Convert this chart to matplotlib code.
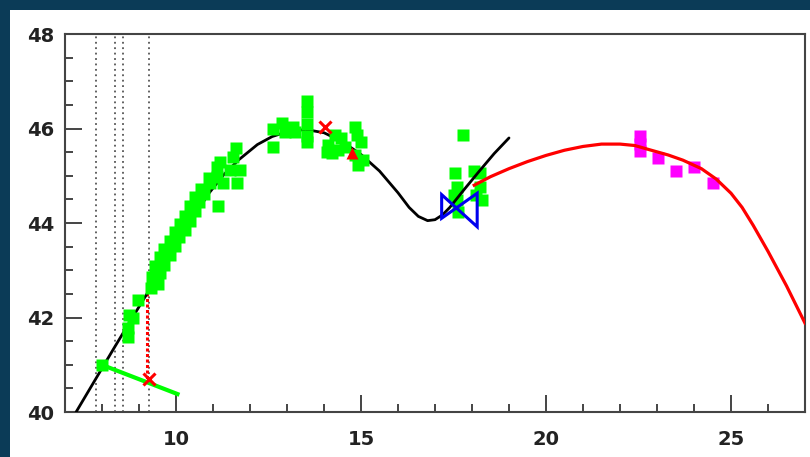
import matplotlib
matplotlib.use("Agg")
import matplotlib.pyplot as plt
from matplotlib.patches import Rectangle, Polygon
from matplotlib.ticker import MultipleLocator

# ---------------- data ----------------
model_x = [7.30, 7.80, 8.30, 8.80, 9.30, 9.80, 10.30, 10.60, 10.90, 11.30, 11.70, 12.20,
           12.60, 13.00, 13.50, 14.00, 14.50, 15.00, 15.50, 16.00, 16.30, 16.55, 16.80,
           17.00, 17.20, 17.40, 17.80, 18.20, 18.60, 19.00]
model_y = [40.00, 40.66, 41.32, 41.97, 42.61, 43.25, 43.88, 44.28, 44.64, 45.03, 45.34, 45.66,
           45.83, 45.93, 45.98, 45.91, 45.72, 45.45, 45.10, 44.64, 44.33, 44.14, 44.05,
           44.07, 44.17, 44.33, 44.72, 45.10, 45.47, 45.80]

fit_x = [18.06, 18.50, 19.00, 19.50, 20.00, 20.50, 21.00, 21.50, 22.00, 22.40, 22.80,
         23.30, 23.70, 24.20, 24.60, 25.00, 25.30, 25.60, 26.00, 26.50, 27.00]
fit_y = [44.80, 44.98, 45.15, 45.30, 45.43, 45.54, 45.62, 45.67, 45.67, 45.64, 45.55,
         45.44, 45.33, 45.15, 44.93, 44.63, 44.33, 43.95, 43.40, 42.67, 41.88]

green_x = [7.99, 8.70, 8.70, 8.73, 8.84, 8.98,
           9.32, 9.50, 9.36, 9.56, 9.42, 9.68, 9.58, 9.85, 9.68, 9.97, 9.85, 10.08,
           9.98, 10.25, 10.12, 10.38, 10.25, 10.50, 10.38, 10.62, 10.52, 10.76,
           10.68, 10.92, 10.90, 11.10, 11.28, 11.46, 11.73, 11.64, 11.10, 11.20,
           11.62, 11.55, 11.14,
           12.63, 12.63, 12.86, 12.95, 13.17, 13.22, 13.53, 13.53, 13.53, 13.53, 13.53,
           14.84, 14.88, 15.01, 14.30, 14.46, 14.12, 14.07, 14.39, 14.57, 14.84, 15.06,
           14.93, 14.21]
green_y = [41.00, 41.59, 41.78, 42.05, 41.99, 42.37,
           42.62, 42.70, 42.85, 42.95, 43.08, 43.12, 43.28, 43.33, 43.45, 43.52, 43.62, 43.70,
           43.80, 43.85, 43.98, 44.05, 44.15, 44.25, 44.35, 44.45, 44.55, 44.62,
           44.72, 44.85, 44.95, 45.18, 44.84, 45.12, 45.12, 44.84, 44.98, 45.30,
           45.58, 45.40, 44.35,
           46.00, 45.61, 46.11, 45.93, 46.04, 45.93, 46.58, 46.35, 46.10, 45.85, 45.72,
           46.04, 45.86, 45.72, 45.86, 45.79, 45.65, 45.51, 45.54, 45.61, 45.44, 45.33,
           45.23, 45.48]

green2_x = [17.77, 17.54, 17.59, 17.59, 17.63, 17.50, 18.22, 18.22, 18.26, 18.05, 18.10]
green2_y = [45.86, 45.05, 44.77, 44.49, 44.24, 44.60, 45.05, 44.77, 44.49, 45.10, 44.60]

magenta_x = [22.54, 22.54, 22.54, 23.02, 23.51, 24.01, 24.51]
magenta_y = [45.85, 45.68, 45.52, 45.37, 45.09, 45.18, 44.85]

cross_x = [9.27, 14.03]
cross_y = [40.70, 46.04]
tri_x = [14.75]
tri_y = [45.48]

bow_x = [17.18, 18.14, 18.14, 17.18]
bow_y = [44.60, 43.92, 44.63, 44.10]

sed_x = [7.99, 10.04]
sed_y = [41.00, 40.38]

limit_x = [9.21, 9.21]
limit_y = [42.51, 40.70]

vline_x = [7.84, 8.35, 8.57, 9.27]

x_ticks = [10, 15, 20, 25]
y_ticks = [40, 42, 44, 46, 48]

# ---------------- figure ----------------
fig = plt.figure(figsize=(8.10, 4.57), dpi=100)
fig.patch.set_facecolor('#0b3b57')
bg = Rectangle((10 / 810, 0), 1, 1 - 10 / 457, transform=fig.transFigure,
               facecolor='white', edgecolor='none', zorder=-10)
fig.patches.append(bg)

ax = fig.add_axes([65 / 810, (457 - 412) / 457, (805 - 65) / 810, (412 - 34) / 457])
ax.set_zorder(1)
ax.set_facecolor('white')

for v in vline_x:
    ax.axvline(v, color='#555555', lw=1.3, linestyle=(0, (1, 2)), zorder=1)

ax.plot(limit_x, limit_y, color='red', lw=2.2, linestyle=(0, (1, 0.8)), zorder=2)

ax.plot(green2_x, green2_y, 's', color='#00ff00', ms=8.7, mec='none', zorder=2)
ax.plot(model_x, model_y, color='black', lw=2.0, zorder=3, solid_capstyle='round',
        solid_joinstyle='round')
ax.plot(green_x, green_y, 's', color='#00ff00', ms=8.7, mec='none', zorder=4)
ax.plot(sed_x, sed_y, color='#00ff00', lw=3.0, zorder=4)

ax.plot(magenta_x, magenta_y, 's', color='#ff00ff', ms=8.7, mec='none', zorder=4)
ax.plot(fit_x, fit_y, color='red', lw=2.3, zorder=5, solid_joinstyle='round')

ax.plot(cross_x, cross_y, 'x', color='red', ms=8, mew=2.2, zorder=6)
ax.plot(tri_x, tri_y, '^', color='red', ms=8.5, mec='none', zorder=6)

ax.add_patch(Polygon(list(zip(bow_x, bow_y)), closed=True, fill=False,
                     edgecolor='#0000ee', lw=2.2, zorder=6))

ax.set_xlim(7, 27)
ax.set_ylim(40, 48)
ax.set_xticks(x_ticks)
ax.set_yticks(y_ticks)
ax.xaxis.set_minor_locator(MultipleLocator(1))
ax.yaxis.set_minor_locator(MultipleLocator(0.5))
ax.tick_params(which='both', direction='in', top=False, right=False,
               color='#444444', width=1.4)
ax.tick_params(which='major', length=12)
ax.tick_params(which='minor', length=6)
ax.tick_params(axis='y', pad=8)
ax.tick_params(axis='x', pad=13)
for lab in ax.get_xticklabels() + ax.get_yticklabels():
    lab.set_fontweight('bold')
    lab.set_fontsize(14)
    lab.set_color('#222222')
for s in ax.spines.values():
    s.set_color('#444444')
    s.set_linewidth(1.5)

fig.savefig('out.png', dpi=100, facecolor=fig.get_facecolor())
